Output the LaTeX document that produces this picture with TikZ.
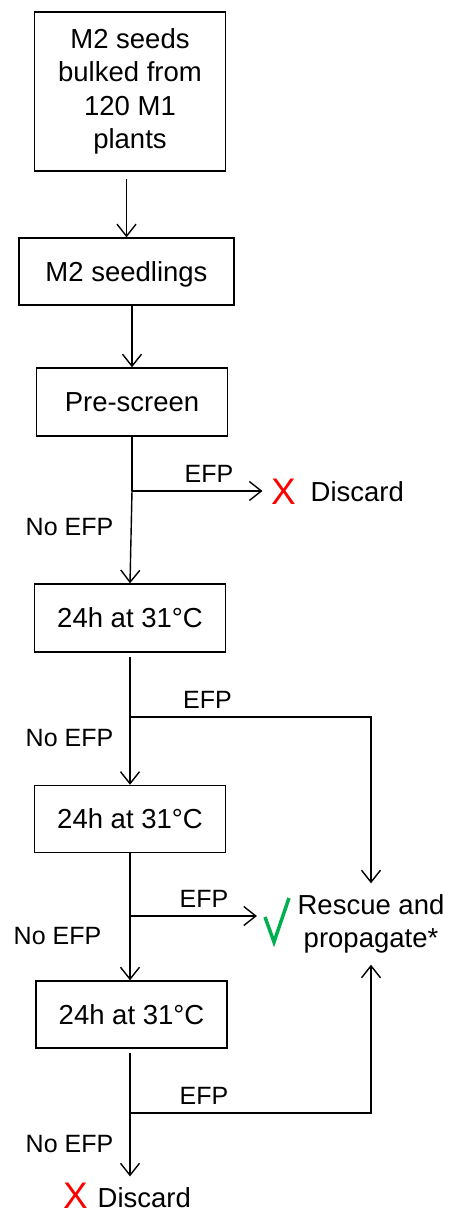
\documentclass[tikz,border=0pt]{standalone}
\usepackage{fontspec}
\setmainfont{Liberation Sans}
\usetikzlibrary{arrows.meta}
\definecolor{tickgreen}{RGB}{0,176,80}

\begin{document}
\begin{tikzpicture}[x=1pt,y=-1pt,line width=1.4pt,
  box/.style={draw,inner sep=0pt,minimum width=191pt,minimum height=67pt,
    font=\fontsize{27.5}{33.3}\selectfont},
  stage/.style={box,text depth=0pt},
  lbl/.style={inner sep=0pt,font=\fontsize{25}{30}\selectfont},
  arr/.style={-{Straight Barb[length=12pt,width=19pt,line width=1.4pt]}},
  cross/.style={text=red,inner sep=0pt,anchor=base,font=\fontsize{37}{37}\selectfont}]
\useasboundingbox (0,0) rectangle (451,1217);
% stages
\node[box,align=center,minimum height=159pt] (seeds) at (130,91.5) {M2 seeds\\bulked from\\120 M1\\plants};
\node[stage,minimum width=215pt] (seedl) at (126.5,271.5) {M2 seedlings};
\node[stage,minimum height=68pt] (pre) at (132,402) {Pre-screen};
\node[stage,minimum height=68pt] (hA) at (130,618) {24h at 31°C};
\node[stage] (hB) at (130,819) {24h at 31°C};
\node[stage] (hC) at (131.5,1014.5) {24h at 31°C};
% outcomes
\node[cross] (xA) at (283.5,504) {X};
\node[inner sep=0pt,anchor=base west,font=\fontsize{27.5}{33.3}\selectfont] (dA) at (310,501) {Discard};
\node[inner sep=0pt,align=center,minimum height=80pt,font=\fontsize{27.5}{33.3}\selectfont] (rs) at (371,924) {Rescue and\\propagate*};
\draw[tickgreen,line width=3.5pt] (265,917) -- (274,942) -- (289,898);
\node[cross] (xB) at (75.5,1208) {X};
\node[inner sep=0pt,anchor=base west,font=\fontsize{27.5}{33.3}\selectfont] (dB) at (97,1207) {Discard};
% branch points
\coordinate (j1) at (132,491);
\coordinate (j2) at (130,717);
\coordinate (j3) at (130,916);
\coordinate (j4) at (130,1113);
% labels
\node[lbl] (e1) at (209,474) {EFP};
\node[lbl] (n1) at (69.5,527) {No EFP};
\node[lbl] (e2) at (207.5,700) {EFP};
\node[lbl] (n2) at (69.5,738.5) {No EFP};
\node[lbl] (e3) at (204,899) {EFP};
\node[lbl] (n3) at (57.5,936) {No EFP};
\node[lbl] (e4) at (204,1096) {EFP};
\node[lbl] (n4) at (69.5,1144) {No EFP};
% connectors
\draw[arr,shorten <=7pt] (seeds.south -| seedl) -- (seedl.north);
\draw[arr] (seedl.south -| pre) -- (pre.north);
\draw (pre.south) -- (j1);
\draw[arr] (j1) -- (hA.north);
\draw[arr,shorten >=8pt] (j1) -- (j1 -| xA.west);
\draw[arr,shorten <=4pt] (hA.south) -- (hB.north);
\draw[arr] (j2) -| (rs.north);
\draw[arr] (hB.south) -- (hB.south |- hC.north);
\draw[arr,shorten >=40pt] (j3) -- (j3 -| rs.west);
\draw[arr,shorten <=4pt,shorten >=10pt] (hC.south -| j4) -- (j4 |- dB.north);
\draw[arr] (j4) -| (rs.south);
\end{tikzpicture}
\end{document}
